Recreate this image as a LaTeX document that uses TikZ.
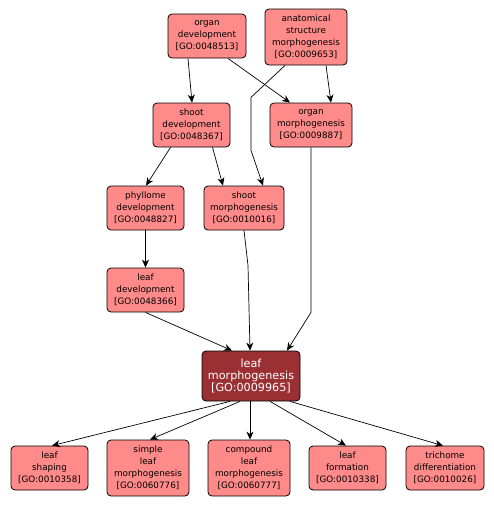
\documentclass[tikz,border=0pt]{standalone}
\usepackage{fontspec}
\setmainfont{DejaVu Sans}
\usetikzlibrary{arrows.meta}
\definecolor{goFill}{RGB}{255,138,138}
\definecolor{goMain}{RGB}{154,48,51}
\begin{document}
\begin{tikzpicture}[x=1pt,y=-1pt,
  term/.style={draw=black,line width=0.8pt,fill=goFill,rounded corners=4pt,
    inner sep=0pt,align=center,font=\fontsize{8.8}{12}\selectfont,minimum height=44pt},
  four/.style={minimum height=56pt},
  mainterm/.style={draw=black,line width=0.8pt,fill=goMain,rounded corners=4pt,
    inner sep=0pt,align=center,text=white,font=\fontsize{11.2}{12.4}\selectfont,
    minimum width=98pt,minimum height=50pt},
  link/.style={draw=black,line width=0.7pt,-{Stealth[length=8pt,width=7pt,inset=2.5pt]}}]
\useasboundingbox[fill=white] (0,0) rectangle (494,507);

\node[term,minimum width=78pt] (od) at (207,36) {organ\\development\\{[GO:0048513]}};
\node[term,four,minimum width=82pt] (asm) at (306,37) {anatomical\\structure\\morphogenesis\\{[GO:0009653]}};
\node[term,minimum width=77pt] (sd) at (191.5,125) {shoot\\development\\{[GO:0048367]}};
\node[term,minimum width=82pt] (om) at (311,125) {organ\\morphogenesis\\{[GO:0009887]}};
\node[term,minimum width=77pt] (phy) at (145.5,208) {phyllome\\development\\{[GO:0048827]}};
\node[term,minimum width=80pt] (sm) at (244,208) {shoot\\morphogenesis\\{[GO:0010016]}};
\node[term,minimum width=77pt] (ld) at (145.5,290) {leaf\\development\\{[GO:0048366]}};
\node[mainterm] (lm) at (251,376) {leaf\\morphogenesis\\{[GO:0009965]}};
\node[term,minimum width=77pt] (ls) at (49.5,468) {leaf\\shaping\\{[GO:0010358]}};
\node[term,four,minimum width=82pt] (sl) at (148,468) {simple\\leaf\\morphogenesis\\{[GO:0060776]}};
\node[term,four,minimum width=82pt] (cl) at (249,468) {compound\\leaf\\morphogenesis\\{[GO:0060777]}};
\node[term,minimum width=77pt] (lf) at (347.5,468) {leaf\\formation\\{[GO:0010338]}};
\node[term,minimum width=78pt] (td) at (445,468) {trichome\\differentiation\\{[GO:0010026]}};

\draw[link] ([xshift=-19pt]od.south) -- ([xshift=0.5pt]sd.north);
\draw[link] ([xshift=21pt]od.south) -- ([xshift=-21pt]om.north);
\draw[link] ([xshift=20pt]asm.south) -- ([xshift=20pt]om.north);
\draw[link] ([xshift=-21pt]asm.south) -- ++(-34,32) -- ++(0,53) -- ([xshift=19pt]sm.north);
\draw[link] ([xshift=-21pt]sd.south) -- ([xshift=0.5pt]phy.north);
\draw[link] ([xshift=21pt]sd.south) -- ([xshift=-21pt]sm.north);
\draw[link] (om.south) -- ++(0,165) -- ([xshift=36pt]lm.north);
\draw[link] (sm.south) -- ++(4,35) -- ([xshift=-1pt]lm.north);
\draw[link] (phy.south) -- (ld.north);
\draw[link] (ld.south) -- ([xshift=-19pt]lm.north);
\draw[link] ([xshift=-21pt]lm.south) -- ([xshift=2.5pt]ls.north);
\draw[link] ([xshift=-11pt]lm.south) -- ([xshift=2pt]sl.north);
\draw[link] ([xshift=-1pt]lm.south) -- ([xshift=1pt]cl.north);
\draw[link] ([xshift=19pt]lm.south) -- ([xshift=-1.5pt]lf.north);
\draw[link] ([xshift=39pt]lm.south) -- ([xshift=-2pt]td.north);
\end{tikzpicture}
\end{document}
